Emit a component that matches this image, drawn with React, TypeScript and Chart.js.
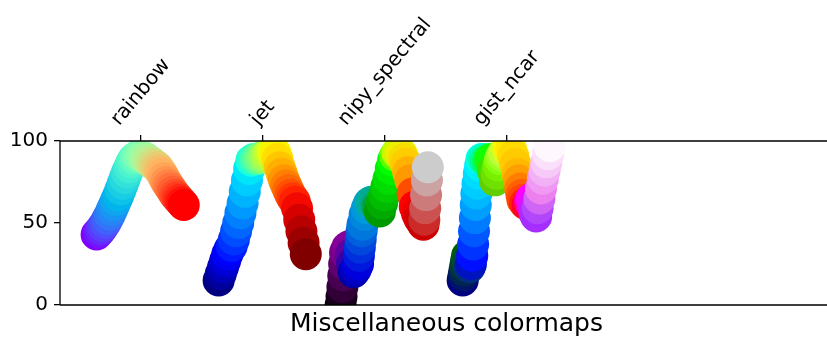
import React, { useEffect, useRef } from "react";
import { Chart, registerables } from "chart.js";

Chart.register(...registerables);

// ---- data ----
const categories = ["rainbow", "jet", "nipy_spectral", "gist_ncar"];
const tickValues = [0.505, 1.905, 3.305, 4.705];
const yTicks = [0, 50, 100];
const xLabel = "Miscellaneous colormaps";

const rainbowX = [0, 0.025, 0.05, 0.075, 0.1, 0.125, 0.15, 0.175, 0.2, 0.225, 0.25, 0.275, 0.3, 0.325, 0.35, 0.375, 0.4, 0.425, 0.45, 0.475, 0.5, 0.525, 0.55, 0.575, 0.6, 0.625, 0.65, 0.675, 0.7, 0.725, 0.75, 0.775, 0.8, 0.825, 0.85, 0.875, 0.9, 0.925, 0.95, 0.975, 1];
const rainbowL = [43, 44.5, 46, 48, 50, 52.5, 55, 58, 61, 64, 67, 70.5, 74, 77.5, 81, 84, 87, 89, 90, 91, 91, 90.5, 90, 89, 88, 87, 86, 85, 84, 82, 80, 77.5, 75, 73, 71, 69, 67, 65.5, 64, 62.5, 61];

const jetX = [0, 0.025, 0.05, 0.075, 0.1, 0.125, 0.15, 0.175, 0.2, 0.225, 0.25, 0.275, 0.3, 0.325, 0.35, 0.375, 0.4, 0.425, 0.45, 0.475, 0.5, 0.525, 0.55, 0.575, 0.6, 0.625, 0.65, 0.675, 0.7, 0.725, 0.75, 0.775, 0.8, 0.825, 0.85, 0.875, 0.9, 0.925, 0.95, 0.975, 1];
const jetL = [15, 19, 23, 27, 31, 34, 36, 40, 45, 50, 56, 62, 69, 76, 83, 88, 89, 89, 89, 90, 90, 90, 91, 92, 93, 94, 93, 89, 84, 80, 76, 73, 70, 67, 65, 63, 59, 52, 45, 38, 31];

const nipyX = [0, 0.01, 0.02, 0.03, 0.04, 0.05, 0.075, 0.1, 0.115, 0.13, 0.15, 0.175, 0.2, 0.21, 0.22, 0.23, 0.24, 0.25, 0.275, 0.3, 0.325, 0.35, 0.375, 0.4, 0.425, 0.45, 0.475, 0.5, 0.525, 0.55, 0.575, 0.6, 0.625, 0.65, 0.675, 0.7, 0.725, 0.75, 0.775, 0.8, 0.825, 0.85, 0.875, 0.9, 0.925, 0.95, 0.96, 0.97, 0.98, 0.99, 1];
const nipyL = [0, 5, 11, 18, 25, 32, 35, 36, 31, 25, 20, 22, 25, 30, 35, 40, 45, 49, 55, 59, 62, 63, 63, 62, 60, 57, 62, 67, 72, 77, 83, 88, 91, 93, 93, 92, 89, 86, 81, 76, 68, 60, 56, 53, 51, 49, 52, 59, 67, 76, 84];

const ncarX = [0, 0.01, 0.02, 0.03, 0.04, 0.051, 0.065, 0.08, 0.095, 0.11, 0.12, 0.13, 0.14, 0.15, 0.157, 0.17, 0.185, 0.2, 0.216, 0.24, 0.265, 0.29, 0.32, 0.345, 0.369, 0.39, 0.41, 0.428, 0.45, 0.475, 0.5, 0.533, 0.555, 0.58, 0.605, 0.631, 0.645, 0.66, 0.675, 0.686, 0.715, 0.745, 0.77, 0.792, 0.81, 0.825, 0.843, 0.86, 0.88, 0.898, 0.92, 0.94, 0.96, 0.98, 1];
const ncarL = [15, 18, 21, 24, 27, 30, 27, 23, 25, 30, 37, 45, 53, 61, 68, 74, 80, 85, 89, 89, 88, 88, 89, 82, 76, 80, 85, 89, 91, 93, 95, 97, 95, 91, 86, 80, 76, 71, 67, 64, 62, 61, 63, 65, 60, 56, 54, 59, 65, 71, 77, 82, 87, 92, 97];

// ---- colormap styles (segment definitions) ----
type Seg = number[][];
const interp = (seg: Seg, t: number) => {
  if (t <= seg[0][0]) return seg[0][1];
  for (let i = 1; i < seg.length; i++) {
    if (t <= seg[i][0]) {
      const [x0, v0] = seg[i - 1];
      const [x1, v1] = seg[i];
      return v0 + ((t - x0) / (x1 - x0)) * (v1 - v0);
    }
  }
  return seg[seg.length - 1][1];
};
const segCmap = (r: Seg, g: Seg, b: Seg) => (t: number): [number, number, number] => [interp(r, t), interp(g, t), interp(b, t)];

const clamp = (v: number) => Math.max(0, Math.min(1, v));
const rainbowCmap = (t: number): [number, number, number] => [
  clamp(Math.abs(2 * t - 0.5)),
  clamp(Math.sin(Math.PI * t)),
  clamp(Math.cos((Math.PI * t) / 2)),
];
const jetCmap = segCmap(
  [[0, 0], [0.35, 0], [0.66, 1], [0.89, 1], [1, 0.5]],
  [[0, 0], [0.125, 0], [0.375, 1], [0.64, 1], [0.91, 0], [1, 0]],
  [[0, 0.5], [0.11, 1], [0.34, 1], [0.65, 0], [1, 0]]
);
const nipyCmap = segCmap(
  [[0, 0], [0.05, 0.4667], [0.1, 0.5333], [0.15, 0], [0.6, 0], [0.65, 0.7333], [0.7, 0.9333], [0.75, 1], [0.85, 1], [0.9, 0.8667], [0.95, 0.8], [1, 0.8]],
  [[0, 0], [0.2, 0], [0.25, 0.4667], [0.3, 0.6], [0.35, 0.6667], [0.4, 0.6667], [0.45, 0.6], [0.5, 0.7333], [0.55, 0.8667], [0.6, 1], [0.65, 1], [0.7, 0.9333], [0.75, 0.8], [0.8, 0.6], [0.85, 0], [0.95, 0], [1, 0.8]],
  [[0, 0], [0.05, 0.5333], [0.1, 0.6], [0.15, 0.6667], [0.2, 0.8667], [0.3, 0.8667], [0.35, 0.6667], [0.4, 0.5333], [0.45, 0], [0.95, 0], [1, 0.8]]
);
const ncarCmap = segCmap(
  [[0, 0], [0.3098, 0], [0.3725, 0.3993], [0.4235, 0.5003], [0.5333, 1], [0.7922, 1], [0.8471, 0.6218], [0.898, 0.9235], [1, 0.9961]],
  [[0, 0], [0.051, 0.3722], [0.1059, 0], [0.1569, 0.7202], [0.1608, 0.7537], [0.1647, 0.7752], [0.2157, 1], [0.2588, 0.9804], [0.2706, 0.9804], [0.3176, 1], [0.3686, 0.8081], [0.4275, 1], [0.5216, 1], [0.6314, 0.7292], [0.6863, 0.2796], [0.7451, 0], [0.7922, 0], [0.8431, 0.1753], [0.898, 0.5], [1, 0.9725]],
  [[0, 0.502], [0.051, 0.0222], [0.1098, 1], [0.2039, 1], [0.2627, 0.6145], [0.3216, 0], [0.4157, 0], [0.4745, 0.2342], [0.5333, 0], [0.7373, 0], [0.7922, 1], [0.8431, 1], [0.898, 0.9341], [1, 0.9961]]
);

const series = [
  { xs: rainbowX, ls: rainbowL, cmap: rainbowCmap },
  { xs: jetX, ls: jetL, cmap: jetCmap },
  { xs: nipyX, ls: nipyL, cmap: nipyCmap },
  { xs: ncarX, ls: ncarL, cmap: ncarCmap },
];

const GROUP_SPACING = 1.4;
const FONT = '"DejaVu Sans", sans-serif';

const toRgb = (c: [number, number, number]) =>
  `rgb(${Math.round(c[0] * 255)},${Math.round(c[1] * 255)},${Math.round(c[2] * 255)})`;

const decorPlugin = {
  id: "decor",
  afterDatasetsDraw(chart: any) {
    const { ctx, chartArea: a, scales } = chart;
    const xs = scales.x;
    ctx.save();
    ctx.strokeStyle = "#000";
    ctx.lineWidth = 1.3;
    ctx.beginPath();
    ctx.moveTo(a.left, a.top);
    ctx.lineTo(a.right, a.top);
    ctx.moveTo(a.left, a.bottom);
    ctx.lineTo(a.right, a.bottom);
    ctx.moveTo(a.left, a.top);
    ctx.lineTo(a.left, a.bottom);
    ctx.stroke();

    const fs = 20;
    const th = (50 * Math.PI) / 180;
    ctx.fillStyle = "#000";
    ctx.font = `${fs}px ${FONT}`;
    tickValues.forEach((v, i) => {
      const px = xs.getPixelForValue(v);
      ctx.beginPath();
      ctx.moveTo(px, a.top);
      ctx.lineTo(px, a.top - 6);
      ctx.stroke();
      const label = categories[i];
      const w = ctx.measureText(label).width;
      const h = 0.968 * fs;
      const H = w * Math.sin(th) + h * Math.cos(th);
      const cy = a.top - 12 - H / 2;
      ctx.save();
      ctx.translate(px, cy);
      ctx.rotate(-th);
      ctx.textAlign = "center";
      ctx.textBaseline = "alphabetic";
      ctx.fillText(label, 0, 0.276 * fs);
      ctx.restore();
    });

    ctx.font = `25px ${FONT}`;
    ctx.textAlign = "center";
    ctx.textBaseline = "alphabetic";
    ctx.fillText(xLabel, (a.left + a.right) / 2 + 3, a.bottom + 26);
    ctx.restore();
  },
};

export default function App() {
  const ref = useRef<HTMLCanvasElement | null>(null);
  useEffect(() => {
    if (!ref.current) return;
    const datasets = series.map((s, j) => ({
      data: s.xs.map((x, k) => ({ x: x + j * GROUP_SPACING, y: s.ls[k] })),
      backgroundColor: s.xs.map((x) => toRgb(s.cmap(x))),
      pointBackgroundColor: s.xs.map((x) => toRgb(s.cmap(x))),
      pointRadius: 16,
      pointHoverRadius: 16,
      pointBorderWidth: 0,
      borderWidth: 0,
      showLine: false,
      clip: 0,
    }));
    const chart = new Chart(ref.current, {
      type: "scatter",
      data: { datasets },
      options: {
        animation: false,
        responsive: false,
        events: [],
        layout: { autoPadding: false, padding: { top: 141, bottom: 33, left: 0, right: 0 } },
        plugins: { legend: { display: false }, tooltip: { enabled: false } },
        scales: {
          x: { type: "linear", display: false, min: -0.42, max: 8.38 },
          y: {
            type: "linear",
            min: 0,
            max: 100,
            afterFit: (scale: any) => {
              scale.width = 60;
            },
            afterBuildTicks: (scale: any) => {
              scale.ticks = yTicks.map((v) => ({ value: v }));
            },
            ticks: { font: { family: FONT, size: 20 }, color: "#000", padding: 6 },
            grid: { drawOnChartArea: false, drawTicks: true, tickLength: 6, color: "#000", lineWidth: 1.3 },
            border: { display: false },
          },
        },
      },
      plugins: [decorPlugin],
    });
    return () => chart.destroy();
  }, []);
  return (
    <div style={{ position: "absolute", left: 0, top: 0, width: 827, height: 338, background: "#fff" }}>
      <canvas ref={ref} width={827} height={338} style={{ display: "block" }} />
    </div>
  );
}
